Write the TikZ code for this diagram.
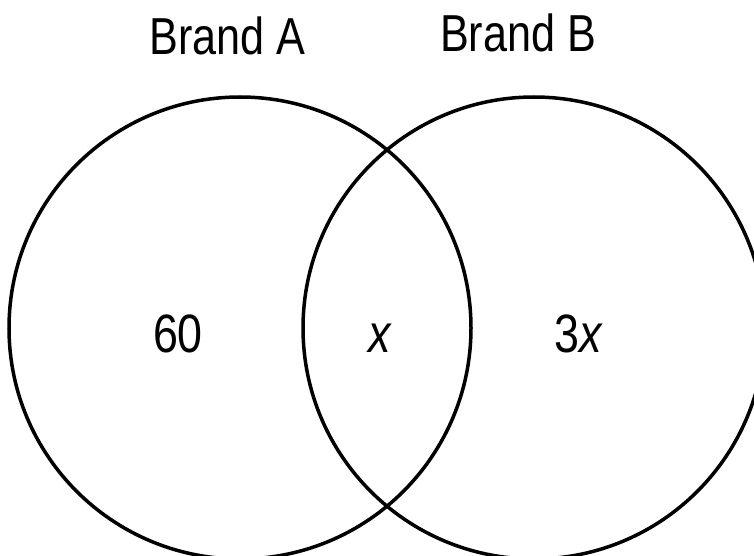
\documentclass[tikz,border=0pt]{standalone}
\usepackage{fontspec}
\newfontfamily\narrowsans[FakeStretch=0.83]{Liberation Sans}
\begin{document}
\begin{tikzpicture}[x=1pt,y=-1pt,
  venn/.style={draw=black,line width=3.5pt,circle,minimum size=462pt,inner sep=0pt},
  lbl/.style={anchor=base,inner sep=0pt,font=\narrowsans\fontsize{52}{60}\selectfont},
  num/.style={anchor=base,inner sep=0pt,font=\narrowsans\fontsize{54}{62}\selectfont}]
\useasboundingbox (0,0) rectangle (754,556);
\node[venn] (circA) at (240,328) {};
\node[venn] (circB) at (534,328) {};
\node[lbl] (brandA) at (227.5,55) {Brand A};
\node[lbl] (brandB) at (518,52) {Brand B};
\node[num] (nA) at (178,352) {60};
\node[num] (nAB) at (380,352) {\itshape x};
\node[num] (nB) at (578,352) {3\itshape x};
\end{tikzpicture}
\end{document}
